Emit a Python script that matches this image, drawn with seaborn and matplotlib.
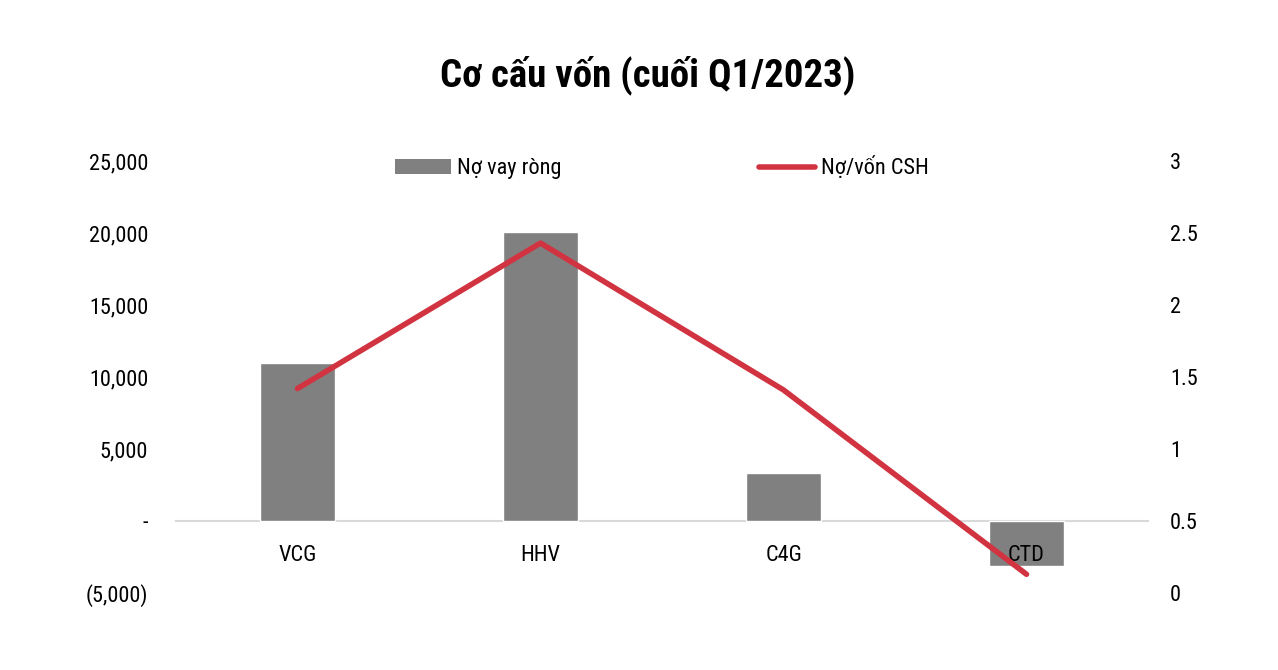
import numpy as np
import pandas as pd
import seaborn as sns
import matplotlib.pyplot as plt
from matplotlib.patches import Patch
from matplotlib.lines import Line2D
from matplotlib.ticker import FuncFormatter, MultipleLocator

# data
tickers = ["VCG", "HHV", "C4G", "CTD"]
net_debt = [11000, 20100, 3330, -3100]          # Nợ vay ròng (left axis)
debt_to_equity = [1.42, 2.43, 1.41, 0.13]      # Nợ/vốn CSH (right axis)

df = pd.DataFrame({"ticker": tickers, "net_debt": net_debt, "ratio": debt_to_equity})

sns.set_style("white")
plt.rcParams['font.family'] = ['Roboto Condensed', 'Liberation Sans Narrow', 'Roboto', 'DejaVu Sans']

fig = plt.figure(figsize=(12.78, 6.70), dpi=100)
ax = fig.add_axes([0.1377, 0.1149, 0.7606, 0.6448])

sns.barplot(data=df, x="ticker", y="net_debt", color="#808080", saturation=1,
            width=0.31, ax=ax)
ax.set_axisbelow(False)

ax2 = ax.twinx()
sns.pointplot(data=df, x="ticker", y="ratio", color="#D13440", markers="",
              linestyles="-", linewidth=4.0, ax=ax2)

ax.set_xlim(-0.5, 3.5)
ax.set_ylim(-5000, 25000)
ax2.set_ylim(0, 3)
ax.yaxis.set_major_locator(MultipleLocator(5000))
ax2.yaxis.set_major_locator(MultipleLocator(0.5))

def left_fmt(v, pos):
    if abs(v) < 1e-9:
        return "-"
    if v < 0:
        return "({:,.0f})".format(-v)
    return "{:,.0f}".format(v)

def right_fmt(v, pos):
    return "{:g}".format(v)

ax.yaxis.set_major_formatter(FuncFormatter(left_fmt))
ax2.yaxis.set_major_formatter(FuncFormatter(right_fmt))

for a in (ax, ax2):
    for s in a.spines.values():
        s.set_visible(False)
    a.set_xlabel("")
    a.set_ylabel("")
    a.grid(False)

ax.spines['bottom'].set_visible(True)
ax.spines['bottom'].set_position(('data', 0))
ax.spines['bottom'].set_color("#D9D9D9")
ax.spines['bottom'].set_linewidth(1.5)
ax.spines['bottom'].set_zorder(0.5)

ax.tick_params(axis='y', length=0, pad=20, labelsize=16, labelcolor="black")
ax.tick_params(axis='x', length=0, pad=17, labelsize=16, labelcolor="black")
ax2.tick_params(axis='y', length=0, pad=16, labelsize=16, labelcolor="black")

handles = [Patch(facecolor="#808080", edgecolor="none", label="Nợ vay ròng"),
           Line2D([0], [0], color="#D13440", lw=4.0, solid_capstyle="round", label="Nợ/vốn CSH")]
leg = ax2.legend(handles=handles, loc="center", bbox_to_anchor=(0.5, 0.984), ncol=2,
                 frameon=False, fontsize=16, columnspacing=8.9, handlelength=2.5,
                 handletextpad=0.27)
for t in leg.get_texts():
    t.set_color("black")

fig.suptitle("Cơ cấu vốn (cuối Q1/2023)", x=0.507, y=0.888, va="center",
             fontsize=28, fontweight="bold", color="black")

fig.savefig("out.png", dpi=100, facecolor="white")
